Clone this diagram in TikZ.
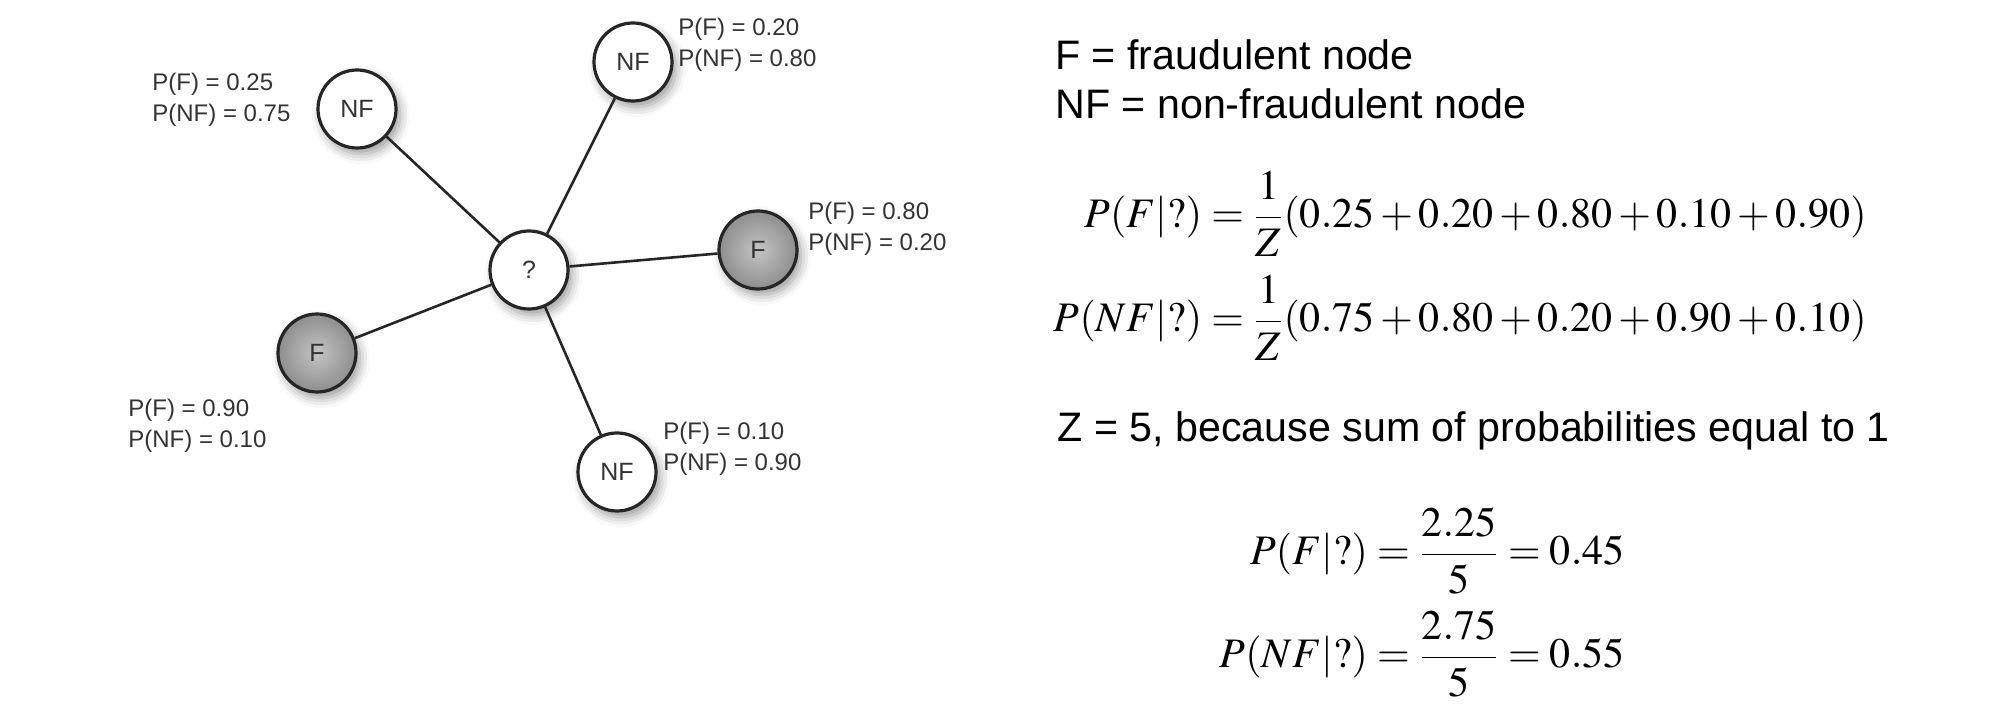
\documentclass[tikz,border=0pt]{standalone}
\usepackage{mathptmx}
\usepackage[no-math]{fontspec}
\setmainfont{Liberation Sans}
\usetikzlibrary{shadows.blur}
\definecolor{nodeline}{HTML}{262626}
\definecolor{fin}{HTML}{C4C4C4}
\definecolor{fout}{HTML}{8E8E8E}
\definecolor{labgray}{HTML}{333333}
\begin{document}
\begin{tikzpicture}[x=0.5pt,y=-0.5pt,
  vertex/.style={circle,draw=nodeline,line width=1.6pt,minimum size=39pt,inner sep=0pt,
    font=\fontsize{12.5}{14}\selectfont,text=labgray,
    blur shadow={shadow xshift=2pt,shadow yshift=-3pt,shadow blur radius=5pt}},
  nf/.style={vertex,fill=white},
  fr/.style={vertex,inner color=fin,outer color=fout},
  prob/.style={anchor=west,inner sep=0pt,align=left,text=labgray,font=\fontsize{12}{15.5}\selectfont},
  edge/.style={draw=nodeline,line width=1.3pt},
  txt/.style={anchor=base west,inner sep=0pt,font=\fontsize{20.6}{25}\selectfont},
  eq/.style={anchor=base east,inner sep=0pt,font=\fontsize{21}{26}\selectfont}]
\useasboundingbox (0,0) rectangle (2002,704);
% graph around the unknown node
\node[nf] (q) at (529,270) {?};
\node[nf] (nfa) at (357,109) {NF};
\node[nf] (nfb) at (633,62) {NF};
\node[fr] (fa) at (758,250) {F};
\node[fr] (fb) at (317,353) {F};
\node[nf] (nfc) at (617,472) {NF};
\foreach \n in {nfa,nfb,fa,fb,nfc} {\draw[edge] (q) -- (\n);}
\node[prob] (pnfa) at (152,100) {P(F) = 0.25\\P(NF) = 0.75};
\node[prob] (pnfb) at (678,45) {P(F) = 0.20\\P(NF) = 0.80};
\node[prob] (pfa) at (808,229) {P(F) = 0.80\\P(NF) = 0.20};
\node[prob] (pfb) at (128,426) {P(F) = 0.90\\P(NF) = 0.10};
\node[prob] (pnfc) at (663,449) {P(F) = 0.10\\P(NF) = 0.90};
% legend and sums
\node[txt] (deff) at (1055,70) {F = fraudulent node};
\node[txt] (defnf) at (1055,119) {NF = non-fraudulent node};
\node[eq] (sumf) at (1867,228) {$\displaystyle P(F|?) = \frac{1}{Z}(0.25 + 0.20 + 0.80 + 0.10 + 0.90)$};
\node[eq] (sumnf) at (1867,332) {$\displaystyle P(NF|?) = \frac{1}{Z}(0.75 + 0.80 + 0.20 + 0.90 + 0.10)$};
\node[txt] (zdef) at (1057,442) {Z = 5, because sum of probabilities equal to 1};
\node[eq] (resf) at (1625,565) {$\displaystyle P(F|?) = \frac{2.25}{5} = 0.45$};
\node[eq] (resnf) at (1625,668) {$\displaystyle P(NF|?) = \frac{2.75}{5} = 0.55$};
\end{tikzpicture}
\end{document}
